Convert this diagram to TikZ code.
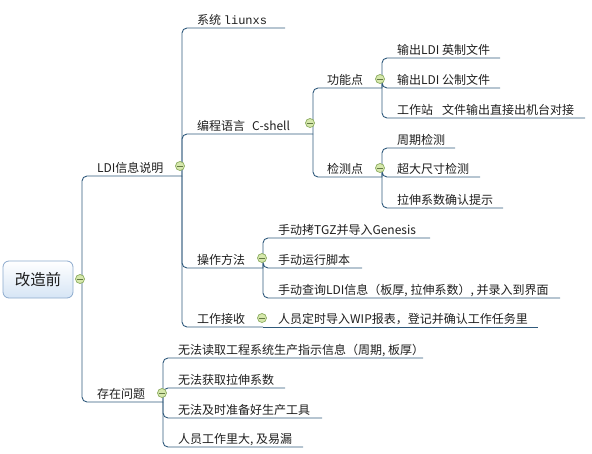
\documentclass[tikz,border=0pt]{standalone}
\usepackage{fontspec}
\setmainfont{Noto Sans CJK SC}
\newfontfamily\monof{Liberation Mono}
\definecolor{linec}{RGB}{48,90,124}
\definecolor{textc}{RGB}{30,30,30}
\definecolor{togf}{RGB}{214,232,172}
\definecolor{togb}{RGB}{140,172,96}
\definecolor{rootb}{RGB}{140,170,205}
\definecolor{rootf}{RGB}{214,229,245}
\begin{document}
\begin{tikzpicture}[x=1pt,y=-1pt,
  conn/.style={draw=linec, line width=0.9pt, rounded corners=5pt},
  lbl/.style={anchor=base west, inner sep=0pt, font=\fontsize{12}{14}\selectfont, text=textc},
  tog/.style={circle, draw=togb, fill=togf, line width=0.7pt, minimum size=9pt, inner sep=0pt,
    path picture={\draw[togb!70!black, line width=0.6pt]
      ([xshift=-2.6pt]path picture bounding box.center) -- ([xshift=2.6pt]path picture bounding box.center);}},
  rootbox/.style={draw=rootb, line width=0.8pt, rounded corners=6pt, top color=white, bottom color=rootf,
    minimum width=70pt, minimum height=37pt, inner sep=0pt, font=\fontsize{15.5}{18}\selectfont, text=textc}
]
\useasboundingbox (0,0) rectangle (592,453);

% root
\node[rootbox] (root) at (38,279.5) {改造前};
\coordinate (r) at (82,279);

% level 1
\coordinate (ldiE) at (182,176);
\coordinate (czE) at (163,402);
\node[lbl] (ldi) at (97,172) {LDI信息说明};
\node[lbl] (cz) at (97,398) {存在问题};
\draw[conn] (r) |- (ldiE);
\draw[conn] (r) |- (czE);

% level 2 under LDI
\coordinate (xtE) at (285,28);
\coordinate (bcE) at (313,134);
\coordinate (czfE) at (263,268);
\coordinate (gzE) at (263,327);
\node[lbl] (xt) at (197,24) {系统 {\monof liunxs}};
\node[lbl] (bc) at (197,130) {编程语言\hspace{7pt}C-shell};
\node[lbl] (czf) at (197,264) {操作方法};
\node[lbl] (gz) at (197,323) {工作接收};
\draw[conn] (ldiE) |- (xtE);
\draw[conn] (ldiE) |- (bcE);
\draw[conn] (ldiE) |- (czfE);
\draw[conn] (ldiE) |- (gzE);

% 编程语言 children
\coordinate (gnE) at (382,88);
\coordinate (jcE) at (382,177);
\node[lbl] (gn) at (327,84) {功能点};
\node[lbl] (jc) at (327,173) {检测点};
\draw[conn] (bcE) |- (gnE);
\draw[conn] (bcE) |- (jcE);

% 功能点 children
\coordinate (g1E) at (500,58);
\coordinate (g2E) at (500,88);
\coordinate (g3E) at (585,118);
\node[lbl] (g1) at (397,54) {输出LDI 英制文件};
\node[lbl] (g2) at (397,84) {输出LDI 公制文件};
\node[lbl] (g3) at (397,114) {工作站\hspace{9pt}文件输出直接出机台对接};
\draw[conn] (gnE) |- (g1E);
\draw[conn] (gnE) |- (g2E);
\draw[conn] (gnE) |- (g3E);

% 检测点 children
\coordinate (j1E) at (455,148);
\coordinate (j2E) at (480,177);
\coordinate (j3E) at (503,208);
\node[lbl] (j1) at (397,144) {周期检测};
\node[lbl] (j2) at (397,173) {超大尺寸检测};
\node[lbl] (j3) at (397,204) {拉伸系数确认提示};
\draw[conn] (jcE) |- (j1E);
\draw[conn] (jcE) |- (j2E);
\draw[conn] (jcE) |- (j3E);

% 操作方法 children
\coordinate (o1E) at (430,238);
\coordinate (o2E) at (362,268);
\coordinate (o3E) at (560,298);
\node[lbl] (o1) at (278,234) {手动拷TGZ并导入Genesis};
\node[lbl] (o2) at (278,264) {手动运行脚本};
\node[lbl] (o3) at (278,294) {手动查询LDI信息（板厚, 拉伸系数）, 并录入到界面};
\draw[conn] (czfE) |- (o1E);
\draw[conn] (czfE) |- (o2E);
\draw[conn] (czfE) |- (o3E);

% 工作接收 child
\coordinate (w1E) at (538,327);
\node[lbl] (w1) at (278,323) {人员定时导入WIP报表，登记并确认工作任务里};
\draw[conn] (gzE) -- (w1E);

% 存在问题 children
\coordinate (p1E) at (423,358);
\coordinate (p2E) at (285,388);
\coordinate (p3E) at (322,418);
\coordinate (p4E) at (303,447);
\node[lbl] (p1) at (178,354) {无法读取工程系统生产指示信息（周期, 板厚）};
\node[lbl] (p2) at (178,384) {无法获取拉伸系数};
\node[lbl] (p3) at (178,414) {无法及时准备好生产工具};
\node[lbl] (p4) at (178,443) {人员工作里大, 及易漏};
\draw[conn] (czE) |- (p1E);
\draw[conn] (czE) |- (p2E);
\draw[conn] (czE) |- (p3E);
\draw[conn] (czE) |- (p4E);

% collapse toggles
\node[tog] (t0) at (80,279) {};
\node[tog] (t1) at (180,166) {};
\node[tog] (t2) at (310,123) {};
\node[tog] (t3) at (380,79) {};
\node[tog] (t4) at (380,168) {};
\node[tog] (t5) at (262,258) {};
\node[tog] (t6) at (262,318) {};
\node[tog] (t7) at (162,393) {};
\end{tikzpicture}
\end{document}
